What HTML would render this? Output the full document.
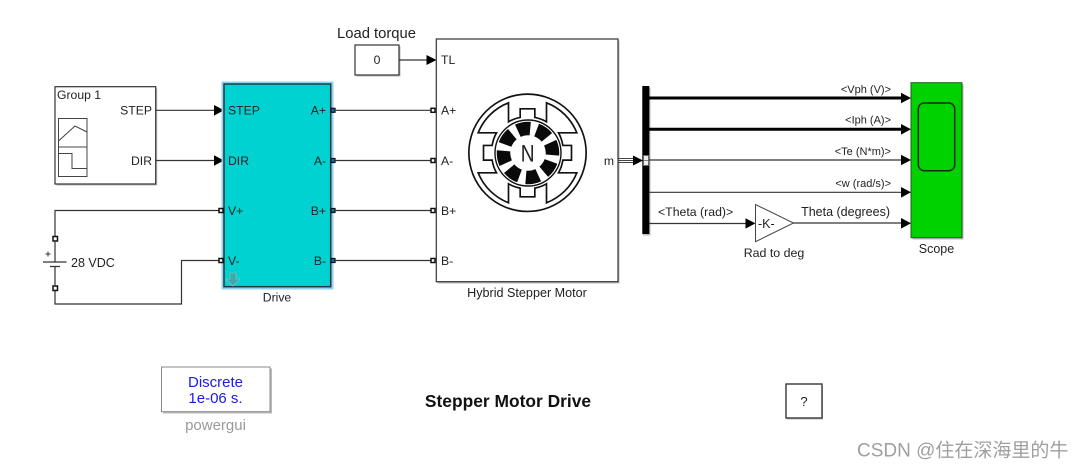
<!DOCTYPE html>
<html><head><meta charset="utf-8"><style>
html,body{margin:0;padding:0;background:#fff;width:1084px;height:468px;overflow:hidden}
svg{display:block;filter:blur(.35px)}
text{font-family:"Liberation Sans","Noto Sans CJK SC",sans-serif;fill:#222;font-size:12.2px}
.w{stroke:#333;stroke-width:1.2;fill:none}
.b{stroke:#000;stroke-width:3;fill:none}
.blk{fill:#fff;stroke:#333;stroke-width:1.2}
.sh{fill:#bbb}
.p{fill:#fff;stroke:#111;stroke-width:1.5}
.pb{fill:#1a6fa8;stroke:#111;stroke-width:1.2}
</style></head><body>
<svg width="1084" height="468" viewBox="0 0 1084 468" xmlns="http://www.w3.org/2000/svg">
<rect width="1084" height="468" fill="#fff"/>

<!-- Group block -->
<rect class="sh" x="56.500" y="88.500" width="100.700" height="97"/>
<rect class="blk" x="55" y="86.700" width="100.700" height="97.300"/>
<text x="57" y="99">Group 1</text>
<text x="152" y="114.500" text-anchor="end">STEP</text>
<text x="152" y="165" text-anchor="end">DIR</text>
<g fill="none" stroke="#444" stroke-width="1">
<rect x="58.500" y="118.500" width="28.500" height="58"/>
<line x1="58.500" y1="147" x2="87" y2="147"/>
<path d="M58.500 141 L75 126 L87 132"/>
<path d="M58.500 153.500 H72 V168.500 H87"/>
</g>

<!-- wires left -->
<path class="w" d="M155.700 110.300H217M155.700 160.500H217"/>
<path fill="#000" d="M214 105l10 5.300-10 5.300zM214 155.200l10 5.300-10 5.300z"/>
<path class="w" d="M219 210.500H55V236M55 291V304H181.500V260.500H219"/>

<!-- battery -->
<rect x="53" y="236.500" width="4.500" height="4.500" fill="#fff" stroke="#111" stroke-width="1.500"/>
<rect x="53" y="286" width="4.500" height="4.500" fill="#fff" stroke="#111" stroke-width="1.500"/>
<path class="w" d="M55 241V262M55 266.500V286M43 262H66.500M50 266.500H60"/>
<path stroke="#333" stroke-width="1" d="M45.500 254H50.500M48 251.500V256.500"/>
<text x="71" y="267" style="font-size:12.500px">28 VDC</text>

<!-- Drive -->
<rect x="221.500" y="81.500" width="112" height="208" fill="#8fd0f5" rx="1"/>
<rect x="224" y="84" width="106.700" height="202.700" fill="#00d2d2" stroke="#1f3a3f" stroke-width="1.500"/>
<text x="228" y="114.500">STEP</text>
<text x="228" y="165">DIR</text>
<text x="228" y="215">V+</text>
<text x="228" y="265">V-</text>
<text x="326" y="114.500" text-anchor="end">A+</text>
<text x="326" y="165" text-anchor="end">A-</text>
<text x="326" y="215" text-anchor="end">B+</text>
<text x="326" y="265" text-anchor="end">B-</text>
<text x="277" y="301.500" text-anchor="middle">Drive</text>
<path d="M230 273h6v6h4l-7 7-7-7h4z" fill="#3fa8a8" stroke="#6fc4c4" stroke-width=".8"/>
<rect class="p" x="219" y="208.500" width="4" height="4"/>
<rect class="p" x="219" y="258.500" width="4" height="4"/>
<rect class="pb" x="331" y="108.300" width="4" height="4"/>
<rect class="pb" x="331" y="158.500" width="4" height="4"/>
<rect class="pb" x="331" y="208.500" width="4" height="4"/>
<rect class="pb" x="331" y="258.500" width="4" height="4"/>

<path class="w" d="M335 110.300H431M335 160.500H431M335 210.500H431M335 260.500H431"/>

<!-- Load torque -->
<text x="337" y="38" style="font-size:14.800px">Load torque</text>
<rect class="sh" x="356.500" y="46.500" width="44" height="30"/>
<rect class="blk" x="355" y="45" width="44" height="30"/>
<text x="377" y="64" text-anchor="middle">0</text>
<path class="w" d="M399 60H430"/>
<path fill="#000" d="M426.500 55l10 5-10 5z"/>

<!-- Motor -->
<rect class="sh" x="437.500" y="40.500" width="182" height="243"/>
<rect class="blk" x="436.300" y="39" width="181.700" height="242.700"/>
<text x="441" y="64">TL</text>
<text x="441" y="114.500">A+</text>
<text x="441" y="165">A-</text>
<text x="441" y="215">B+</text>
<text x="441" y="265">B-</text>
<text x="614" y="165" text-anchor="end">m</text>
<text x="527" y="297" text-anchor="middle" style="font-size:12.600px">Hybrid Stepper Motor</text>
<rect class="p" x="431" y="108.300" width="4" height="4"/>
<rect class="p" x="431" y="158.500" width="4" height="4"/>
<rect class="p" x="431" y="208.500" width="4" height="4"/>
<rect class="p" x="431" y="258.500" width="4" height="4"/>

<!-- Motor icon -->
<g transform="translate(527.500,152.800) scale(.3333)" fill="none" stroke="#111" stroke-width="5">
<circle cx="0" cy="0" r="176"/>
<path fill="#fff" d="M-57 -150 V-93 A108 108 0 0 1 -22 -106 V-132 H22 V-106 A108 108 0 0 1 57 -93 V-150 A160 160 0 0 1 148 -60 H93 A108 108 0 0 1 106 -22 H132 V22 H106 A108 108 0 0 1 93 60 H148 A160 160 0 0 1 57 150 V93 A108 108 0 0 1 22 106 V132 H-22 V106 A108 108 0 0 1 -57 93 V150 A160 160 0 0 1 -148 60 H-93 A108 108 0 0 1 -106 22 H-132 V-22 H-106 A108 108 0 0 1 -93 -60 H-148 A160 160 0 0 1 -57 -150Z"/>
</g>
<g fill="none">
<circle cx="528" cy="153" r="33" fill="#fff" stroke="#111" stroke-width="1.400"/>
<circle cx="528" cy="153" r="24.500" stroke="#0a0a0a" stroke-width="13.500" stroke-dasharray="12.700 6.540" transform="rotate(-24.900 528 153)"/>
</g>
<text transform="translate(527.700,161.700) scale(.78,1)" text-anchor="middle" style="font-size:24.500px;fill:#222">N</text>

<!-- m connection -->
<path stroke="#444" stroke-width="1" fill="none" d="M618 158.500H636M618 160.500H636M618 162.500H636"/>
<path fill="#000" d="M633 155.500l10 5-10 5z"/>

<!-- Bus -->
<rect x="643" y="87.500" width="7.500" height="148" fill="#bbb"/>
<rect x="642.300" y="86" width="7" height="148" fill="#000"/>
<rect x="643.500" y="155.500" width="5" height="10" fill="#eee" stroke="#666" stroke-width=".8"/>
<path stroke="#666" stroke-width=".8" d="M643.500 160.500H648.500"/>

<!-- bus outputs -->
<path class="b" d="M649 98H905M649 129.300H905"/>
<path class="w" d="M649 160H905M649 192.300H905M649 223.500H749M793 223H905"/>
<path fill="#000" d="M901 92.800l10 5.200-10 5.200zM901 124l10 5.300-10 5.300zM901 154.800l10 5.200-10 5.200zM901 187l10 5.300-10 5.300zM901 218l10 5.300-10 5.300zM745.500 218.200l10 5.200-10 5.200z"/>

<text x="891" y="93" text-anchor="end" style="font-size:11px">&lt;Vph (V)&gt;</text>
<text x="891" y="123.500" text-anchor="end" style="font-size:11px">&lt;Iph (A)&gt;</text>
<text x="891" y="155" text-anchor="end" style="font-size:11px">&lt;Te (N*m)&gt;</text>
<text x="891" y="187" text-anchor="end" style="font-size:11px">&lt;w (rad/s)&gt;</text>
<text x="658" y="216" style="font-size:12.300px">&lt;Theta (rad)&gt;</text>
<text x="890" y="216" text-anchor="end" style="font-size:12.500px">Theta (degrees)</text>

<!-- Gain -->
<path d="M755.500 204.500V241.700L793.500 223Z" fill="#fff" stroke="#444" stroke-width="1"/>
<text x="758" y="228" style="font-size:12.500px">-K-</text>
<text x="774" y="257" text-anchor="middle" style="font-size:12.400px">Rad to deg</text>

<!-- Scope -->
<rect class="sh" x="912.500" y="84.500" width="51" height="155"/>
<rect x="911" y="82.700" width="51" height="155" fill="#00d200" stroke="#1d5c1d" stroke-width="1"/>
<rect x="918.300" y="103" width="36.400" height="67.700" rx="6" fill="#00d200" stroke="#0c2c0c" stroke-width="1.500"/>
<text x="936.500" y="253" text-anchor="middle" style="font-size:12.500px">Scope</text>

<!-- powergui -->
<rect class="sh" x="163" y="368.500" width="109" height="45"/>
<rect x="161.500" y="367" width="108.500" height="44.700" fill="#fff" stroke="#888" stroke-width="1"/>
<text x="215.500" y="387" text-anchor="middle" style="font-size:15px;fill:#1a1ae6">Discrete</text>
<text x="215.500" y="403" text-anchor="middle" style="font-size:15px;fill:#1a1ae6">1e-06 s.</text>
<text x="215.500" y="430" text-anchor="middle" style="font-size:15px;fill:#999">powergui</text>

<!-- title -->
<text x="508" y="407" text-anchor="middle" style="font-size:17.400px;font-weight:bold;fill:#111">Stepper Motor Drive</text>

<!-- help -->
<rect class="sh" x="787" y="385.500" width="36" height="34"/>
<rect x="786" y="384" width="36" height="34" fill="#fff" stroke="#444" stroke-width="1.500"/>
<text x="804" y="406" text-anchor="middle" style="font-size:13px">?</text>

<!-- watermark -->
<text x="857" y="456.500" style="font-size:19px;fill:#9f9f9f">CSDN @住在深海里的牛</text>
</svg>
</body></html>
